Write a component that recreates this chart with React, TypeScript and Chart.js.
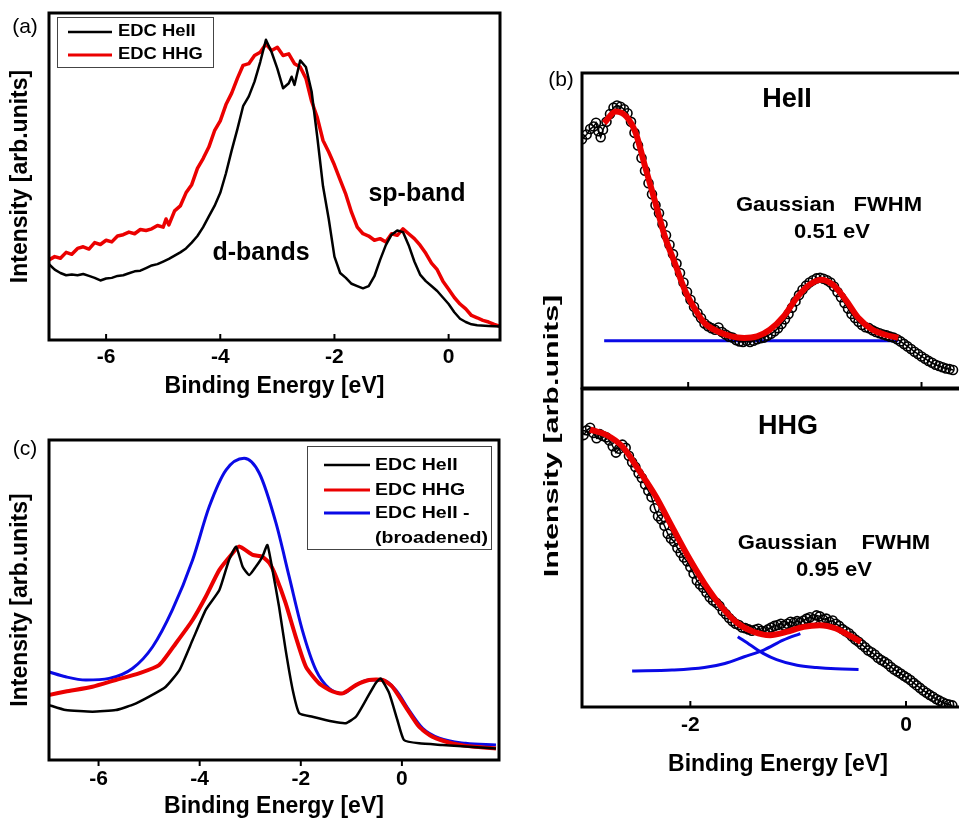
import React, { useEffect, useRef } from 'react';
import { Chart, registerables } from 'chart.js';

Chart.register(...registerables);

const FONT = "'Liberation Sans', Arial, Helvetica, sans-serif";
const RED = 'rgb(235,0,0)';
const BLUE = 'rgb(10,10,230)';

// ---------- Panel (a) ----------
const aHeIIEnergy = [-7.0, -6.9, -6.8, -6.7, -6.6, -6.5, -6.4, -6.3, -6.2, -6.1, -6.0, -5.9, -5.8, -5.7, -5.6, -5.5, -5.4, -5.3, -5.2, -5.1, -5.0, -4.9, -4.8, -4.7, -4.6, -4.5, -4.4, -4.3, -4.2, -4.1, -4.0, -3.9, -3.8, -3.7, -3.6, -3.5, -3.4, -3.3, -3.2, -3.1, -3.0, -2.9, -2.8, -2.75, -2.7, -2.6, -2.5, -2.4, -2.3, -2.2, -2.1, -2.0, -1.9, -1.8, -1.7, -1.6, -1.5, -1.4, -1.3, -1.2, -1.1, -1.0, -0.9, -0.8, -0.7, -0.6, -0.5, -0.4, -0.3, -0.2, -0.1, 0.0, 0.1, 0.2, 0.3, 0.4, 0.5, 0.7, 0.9];
const aHeIIIntensity = [0.232, 0.215, 0.205, 0.198, 0.2, 0.198, 0.202, 0.196, 0.19, 0.182, 0.188, 0.19, 0.196, 0.198, 0.204, 0.21, 0.212, 0.22, 0.228, 0.232, 0.24, 0.248, 0.258, 0.268, 0.28, 0.298, 0.318, 0.345, 0.378, 0.41, 0.45, 0.51, 0.58, 0.645, 0.715, 0.745, 0.79, 0.85, 0.918, 0.88, 0.83, 0.77, 0.785, 0.805, 0.78, 0.855, 0.835, 0.76, 0.62, 0.47, 0.37, 0.255, 0.205, 0.19, 0.172, 0.165, 0.158, 0.165, 0.195, 0.245, 0.29, 0.322, 0.335, 0.33, 0.29, 0.24, 0.2, 0.18, 0.165, 0.15, 0.13, 0.11, 0.085, 0.065, 0.055, 0.048, 0.045, 0.043, 0.041];
const aHHGEnergy = [-7.0, -6.9, -6.8, -6.7, -6.6, -6.5, -6.4, -6.3, -6.2, -6.1, -6.0, -5.9, -5.8, -5.7, -5.6, -5.5, -5.4, -5.3, -5.2, -5.1, -5.0, -4.95, -4.9, -4.8, -4.7, -4.6, -4.5, -4.4, -4.3, -4.2, -4.1, -4.0, -3.9, -3.8, -3.7, -3.6, -3.5, -3.4, -3.3, -3.2, -3.1, -3.0, -2.9, -2.8, -2.7, -2.6, -2.5, -2.4, -2.3, -2.2, -2.1, -2.0, -1.9, -1.8, -1.7, -1.6, -1.5, -1.4, -1.3, -1.2, -1.1, -1.0, -0.9, -0.8, -0.7, -0.6, -0.5, -0.4, -0.3, -0.2, -0.1, 0.0, 0.1, 0.2, 0.3, 0.4, 0.5, 0.6, 0.7, 0.8, 0.9];
const aHHGIntensity = [0.245, 0.255, 0.25, 0.268, 0.262, 0.28, 0.285, 0.278, 0.298, 0.292, 0.305, 0.3, 0.318, 0.322, 0.33, 0.325, 0.338, 0.335, 0.34, 0.35, 0.345, 0.37, 0.352, 0.395, 0.41, 0.45, 0.475, 0.525, 0.555, 0.59, 0.64, 0.67, 0.72, 0.755, 0.8, 0.84, 0.845, 0.87, 0.88, 0.905, 0.885, 0.895, 0.87, 0.875, 0.845, 0.835, 0.8, 0.73, 0.68, 0.61, 0.575, 0.535, 0.49, 0.445, 0.39, 0.345, 0.325, 0.318, 0.305, 0.31, 0.3, 0.325, 0.32, 0.34, 0.325, 0.31, 0.29, 0.265, 0.235, 0.215, 0.18, 0.155, 0.13, 0.11, 0.095, 0.075, 0.068, 0.06, 0.055, 0.048, 0.042];

// ---------- Panel (c) ----------
const cHeIIEnergy = [-6.99, -6.65, -6.12, -5.66, -5.33, -5.0, -4.67, -4.4, -4.14, -3.88, -3.61, -3.42, -3.28, -3.15, -3.02, -2.89, -2.76, -2.66, -2.56, -2.43, -2.3, -2.16, -2.03, -1.77, -1.37, -1.11, -0.91, -0.71, -0.52, -0.42, -0.25, -0.09, 0.04, 0.34, 0.8, 1.26, 1.86];
const cHeIIIntensity = [0.172, 0.156, 0.151, 0.156, 0.172, 0.198, 0.229, 0.281, 0.375, 0.469, 0.531, 0.625, 0.667, 0.604, 0.578, 0.604, 0.635, 0.672, 0.594, 0.479, 0.344, 0.219, 0.146, 0.135, 0.12, 0.115, 0.135, 0.188, 0.24, 0.255, 0.208, 0.125, 0.0625, 0.052, 0.047, 0.042, 0.036];
const cHHGEnergy = [-6.99, -6.65, -6.12, -5.66, -5.2, -4.8, -4.47, -4.14, -3.88, -3.61, -3.35, -3.22, -2.95, -2.76, -2.62, -2.49, -2.3, -2.1, -1.9, -1.64, -1.37, -1.17, -0.91, -0.65, -0.38, -0.19, 0.07, 0.34, 0.6, 1.0, 1.39, 1.86];
const cHHGIntensity = [0.203, 0.214, 0.229, 0.25, 0.271, 0.297, 0.365, 0.4375, 0.51, 0.594, 0.646, 0.667, 0.641, 0.635, 0.615, 0.573, 0.49, 0.385, 0.292, 0.24, 0.214, 0.208, 0.234, 0.25, 0.25, 0.229, 0.167, 0.104, 0.073, 0.052, 0.042, 0.036];
const cBroadEnergy = [-6.99, -6.65, -6.25, -5.79, -5.33, -4.93, -4.54, -4.14, -3.81, -3.48, -3.12, -2.82, -2.49, -2.23, -1.97, -1.7, -1.44, -1.17, -0.91, -0.65, -0.38, -0.12, 0.14, 0.41, 0.74, 1.26, 1.86];
const cBroadIntensity = [0.276, 0.26, 0.25, 0.255, 0.286, 0.354, 0.469, 0.625, 0.792, 0.906, 0.943, 0.896, 0.74, 0.573, 0.406, 0.281, 0.224, 0.208, 0.234, 0.25, 0.25, 0.219, 0.156, 0.099, 0.068, 0.052, 0.047];

// ---------- Panel (b), top (HeII) ----------
const bTopDataEnergy = [-2.91, -2.87, -2.84, -2.81, -2.79, -2.77, -2.75, -2.73, -2.7, -2.67, -2.64, -2.61, -2.58, -2.55, -2.52, -2.49, -2.46, -2.43, -2.4, -2.37, -2.34, -2.31, -2.28, -2.25, -2.22, -2.19, -2.16, -2.13, -2.1, -2.07, -2.04, -2.01, -1.98, -1.95, -1.92, -1.89, -1.86, -1.83, -1.8, -1.77, -1.74, -1.71, -1.68, -1.65, -1.62, -1.59, -1.56, -1.53, -1.5, -1.47, -1.44, -1.41, -1.38, -1.35, -1.32, -1.29, -1.26, -1.23, -1.2, -1.17, -1.14, -1.11, -1.08, -1.05, -1.02, -0.99, -0.96, -0.93, -0.9, -0.87, -0.84, -0.81, -0.78, -0.75, -0.72, -0.69, -0.66, -0.63, -0.6, -0.57, -0.54, -0.51, -0.48, -0.45, -0.42, -0.39, -0.36, -0.33, -0.3, -0.27, -0.24, -0.21, -0.18, -0.15, -0.12, -0.09, -0.06, -0.03, 0.0, 0.03, 0.06, 0.09, 0.12, 0.15, 0.18, 0.21, 0.24, 0.27];
const bTopDataIntensity = [0.79, 0.805, 0.822, 0.83, 0.842, 0.815, 0.796, 0.82, 0.845, 0.87, 0.89, 0.897, 0.893, 0.885, 0.872, 0.845, 0.81, 0.77, 0.73, 0.69, 0.65, 0.615, 0.58, 0.555, 0.52, 0.485, 0.455, 0.425, 0.395, 0.365, 0.335, 0.305, 0.28, 0.258, 0.238, 0.222, 0.205, 0.196, 0.19, 0.185, 0.192, 0.178, 0.17, 0.163, 0.16, 0.152, 0.148, 0.146, 0.15, 0.146, 0.15, 0.155, 0.158, 0.16, 0.166, 0.172, 0.18, 0.19, 0.203, 0.218, 0.235, 0.255, 0.275, 0.295, 0.312, 0.325, 0.335, 0.342, 0.348, 0.35, 0.347, 0.342, 0.335, 0.322, 0.305, 0.288, 0.27, 0.252, 0.235, 0.222, 0.21, 0.2, 0.193, 0.19, 0.183, 0.178, 0.174, 0.17, 0.167, 0.163, 0.16, 0.155, 0.148, 0.14, 0.132, 0.124, 0.115, 0.108, 0.1, 0.093, 0.086, 0.08, 0.074, 0.07, 0.066, 0.062, 0.06, 0.057];
const bTopFitEnergy = [-2.72, -2.62, -2.53, -2.45, -2.37, -2.28, -2.2, -2.11, -2.03, -1.94, -1.86, -1.75, -1.63, -1.52, -1.41, -1.3, -1.18, -1.07, -0.96, -0.86, -0.76, -0.65, -0.54, -0.42, -0.31, -0.2];
const bTopFitIntensity = [0.841, 0.878, 0.862, 0.81, 0.704, 0.587, 0.481, 0.392, 0.312, 0.249, 0.206, 0.18, 0.164, 0.159, 0.164, 0.185, 0.228, 0.286, 0.328, 0.344, 0.328, 0.28, 0.222, 0.185, 0.169, 0.159];
const bTopBaseEnergy = [-2.72, -0.2];
const bTopBaseIntensity = [0.15, 0.15];

// ---------- Panel (b), bottom (HHG) ----------
const bBotDataEnergy = [-2.99, -2.96, -2.93, -2.9, -2.87, -2.84, -2.81, -2.78, -2.75, -2.72, -2.69, -2.66, -2.63, -2.6, -2.57, -2.54, -2.51, -2.48, -2.45, -2.42, -2.39, -2.36, -2.33, -2.3, -2.27, -2.24, -2.21, -2.18, -2.15, -2.12, -2.09, -2.06, -2.03, -2.0, -1.97, -1.94, -1.91, -1.88, -1.85, -1.82, -1.79, -1.76, -1.73, -1.7, -1.67, -1.64, -1.61, -1.58, -1.55, -1.52, -1.49, -1.46, -1.43, -1.4, -1.37, -1.34, -1.31, -1.28, -1.25, -1.22, -1.19, -1.16, -1.13, -1.1, -1.07, -1.04, -1.01, -0.98, -0.95, -0.92, -0.89, -0.86, -0.83, -0.8, -0.77, -0.74, -0.71, -0.68, -0.65, -0.62, -0.59, -0.56, -0.53, -0.5, -0.47, -0.44, -0.41, -0.38, -0.35, -0.32, -0.29, -0.26, -0.23, -0.2, -0.17, -0.14, -0.11, -0.08, -0.05, -0.02, 0.01, 0.04, 0.07, 0.1, 0.13, 0.16, 0.19, 0.22, 0.25, 0.28, 0.31, 0.34, 0.37, 0.4, 0.43];
const bBotDataIntensity = [0.855, 0.87, 0.878, 0.862, 0.845, 0.858, 0.852, 0.848, 0.838, 0.82, 0.8, 0.812, 0.825, 0.815, 0.79, 0.77, 0.755, 0.735, 0.72, 0.7, 0.68, 0.66, 0.625, 0.6, 0.59, 0.57, 0.545, 0.53, 0.52, 0.5, 0.485, 0.47, 0.458, 0.44, 0.42, 0.398, 0.385, 0.375, 0.36, 0.345, 0.335, 0.328, 0.318, 0.302, 0.292, 0.28, 0.27, 0.262, 0.258, 0.25, 0.248, 0.244, 0.24, 0.243, 0.246, 0.24, 0.238, 0.244, 0.25, 0.255, 0.258, 0.262, 0.256, 0.262, 0.268, 0.265, 0.27, 0.266, 0.272, 0.278, 0.282, 0.276, 0.288, 0.285, 0.275, 0.278, 0.268, 0.272, 0.262, 0.255, 0.245, 0.238, 0.232, 0.222, 0.212, 0.205, 0.196, 0.188, 0.178, 0.172, 0.165, 0.155, 0.148, 0.142, 0.135, 0.126, 0.118, 0.112, 0.105, 0.098, 0.092, 0.085, 0.076, 0.068, 0.06, 0.052, 0.045, 0.038, 0.032, 0.025, 0.02, 0.015, 0.01, 0.008, 0.005];
const bBotFitEnergy = [-2.93, -2.78, -2.63, -2.48, -2.32, -2.17, -2.02, -1.87, -1.71, -1.56, -1.41, -1.26, -1.11, -0.95, -0.8, -0.65, -0.53, -0.42];
const bBotFitIntensity = [0.872, 0.856, 0.819, 0.746, 0.662, 0.567, 0.473, 0.389, 0.315, 0.263, 0.236, 0.226, 0.236, 0.252, 0.257, 0.247, 0.226, 0.205];
const bBotSpEnergy = [-2.54, -2.17, -1.87, -1.68, -1.5, -1.32, -1.14, -0.98];
const bBotSpIntensity = [0.113, 0.116, 0.124, 0.137, 0.158, 0.179, 0.21, 0.231];
const bBotTailEnergy = [-1.56, -1.44, -1.32, -1.2, -1.01, -0.83, -0.65, -0.44];
const bBotTailIntensity = [0.221, 0.194, 0.168, 0.149, 0.131, 0.124, 0.12, 0.118];

function pts(xs: number[], ys: number[]) {
  return xs.map((x, i) => ({ x, y: ys[i] }));
}

type TextSpec = { text: string; x: number; y: number; size: number; bold?: boolean; sx?: number; rot?: number; align?: CanvasTextAlign };
type LegendSpec = { box: [number, number, number, number]; lineX: [number, number]; textX: number; ys: number[]; size: number; sx: number; items: { ds: number; extraLine?: string }[] };
type FrameSpec = { tickDir: 'in' | 'out'; tickLen: number; texts: TextSpec[]; legend?: LegendSpec };

function drawText(ctx: CanvasRenderingContext2D, t: TextSpec) {
  ctx.save();
  ctx.translate(t.x, t.y);
  if (t.rot) ctx.rotate(t.rot);
  ctx.scale(t.sx ?? 1, 1);
  ctx.font = `${t.bold === false ? '' : 'bold '}${t.size}px ${FONT}`;
  ctx.fillStyle = '#000';
  ctx.textAlign = t.align ?? 'center';
  ctx.textBaseline = 'middle';
  ctx.fillText(t.text, 0, 0);
  ctx.restore();
}

function framePlugin(spec: FrameSpec) {
  return {
    id: 'frame',
    afterDraw(chart: any) {
      const { ctx, chartArea: a } = chart;
      ctx.save();
      ctx.strokeStyle = '#000';
      ctx.lineWidth = 3;
      ctx.strokeRect(a.left, a.top, a.right - a.left, a.bottom - a.top);
      const xs = chart.scales.x;
      ctx.lineWidth = 2;
      for (const t of xs.ticks) {
        const px = xs.getPixelForValue(t.value);
        ctx.beginPath();
        ctx.moveTo(px, a.bottom);
        ctx.lineTo(px, spec.tickDir === 'out' ? a.bottom + spec.tickLen : a.bottom - spec.tickLen);
        ctx.stroke();
      }
      for (const t of spec.texts) drawText(ctx, t);
      const lg = spec.legend;
      if (lg) {
        ctx.lineWidth = 1;
        ctx.strokeStyle = '#444';
        ctx.strokeRect(lg.box[0] + 0.5, lg.box[1] + 0.5, lg.box[2] - lg.box[0], lg.box[3] - lg.box[1]);
        let row = 0;
        for (const it of lg.items) {
          const ds = chart.data.datasets[it.ds];
          const y = lg.ys[row];
          ctx.strokeStyle = ds.borderColor;
          ctx.lineWidth = Math.min(ds.borderWidth, 3);
          ctx.beginPath();
          ctx.moveTo(lg.lineX[0], y);
          ctx.lineTo(lg.lineX[1], y);
          ctx.stroke();
          drawText(ctx, { text: ds.label, x: lg.textX, y, size: lg.size, sx: lg.sx, align: 'left' });
          row++;
          if (it.extraLine) {
            drawText(ctx, { text: it.extraLine, x: lg.textX, y: lg.ys[row], size: lg.size, sx: lg.sx, align: 'left' });
            row++;
          }
        }
      }
      ctx.restore();
    },
  };
}

function xAxis(min: number, max: number, height: number, showLabels: boolean, tickPad: number, titlePad: number) {
  return {
    type: 'linear',
    min,
    max,
    afterFit: (s: any) => { s.height = height; },
    grid: { display: false, drawTicks: false },
    border: { display: false },
    ticks: {
      display: showLabels,
      stepSize: 2,
      includeBounds: false,
      padding: tickPad,
      color: '#000',
      font: { family: FONT, size: 21, weight: 'bold' },
    },
    title: {
      display: showLabels,
      text: 'Binding Energy [eV]',
      color: '#000',
      font: { family: FONT, size: 23, weight: 'bold' },
      padding: { top: 0, bottom: titlePad },
    },
  };
}

function yAxis(showTitle: boolean) {
  return {
    type: 'linear',
    min: 0,
    max: 1,
    display: showTitle,
    afterFit: (s: any) => { s.width = showTitle ? 49 : 0; },
    grid: { display: false, drawTicks: false },
    border: { display: false },
    ticks: { display: false },
    title: {
      display: showTitle,
      text: 'Intensity [arb.units]',
      color: '#000',
      font: { family: FONT, size: 23, weight: 'bold' },
      padding: { top: 7, bottom: 0 },
    },
  };
}

function lineDs(label: string, data: any[], color: string, width: number, order: number, tension = 0, monotone = false) {
  return {
    label,
    data,
    borderColor: color,
    backgroundColor: color,
    borderWidth: width,
    pointRadius: 0,
    showLine: true,
    tension,
    cubicInterpolationMode: monotone ? 'monotone' : 'default',
    borderJoinStyle: 'round',
    order,
  };
}

function circleDs(label: string, data: any[], order: number) {
  return {
    label,
    data,
    borderColor: '#000',
    backgroundColor: 'rgba(255,255,255,0)',
    borderWidth: 1.5,
    pointRadius: 4.5,
    pointBorderWidth: 1.6,
    pointBorderColor: '#000',
    pointBackgroundColor: 'rgba(255,255,255,0)',
    showLine: true,
    order,
  };
}

function baseOptions(padding: any, scales: any) {
  return {
    responsive: false,
    animation: false,
    devicePixelRatio: 1,
    layout: { padding },
    plugins: { legend: { display: false }, tooltip: { enabled: false } },
    scales,
  };
}

const configA = () => ({
  type: 'scatter',
  data: {
    datasets: [
      lineDs('EDC HeII', pts(aHeIIEnergy, aHeIIIntensity), '#000', 2.5, 0),
      lineDs('EDC HHG', pts(aHHGEnergy, aHHGIntensity), RED, 3.5, 1),
    ],
  },
  options: baseOptions({ left: 0, top: 13, right: 10, bottom: 0 }, { x: xAxis(-7, 0.9, 60, true, 5, 0), y: yAxis(true) }),
  plugins: [
    framePlugin({
      tickDir: 'in',
      tickLen: 6,
      texts: [
        { text: '(a)', x: 25, y: 27, size: 21, bold: false },
        { text: 'sp-band', x: 417, y: 194, size: 25 },
        { text: 'd-bands', x: 261, y: 253, size: 25 },
      ],
      legend: { box: [57, 17, 213, 67], lineX: [68, 112], textX: 118, ys: [32, 55], size: 16, sx: 1.15, items: [{ ds: 0 }, { ds: 1 }] },
    }),
  ],
});

const configC = () => ({
  type: 'scatter',
  data: {
    datasets: [
      lineDs('EDC HeII', pts(cHeIIEnergy, cHeIIIntensity), '#000', 2.5, 0, 0.15),
      lineDs('EDC HHG', pts(cHHGEnergy, cHHGIntensity), RED, 4, 1, 0.2),
      lineDs('EDC HeII -', pts(cBroadEnergy, cBroadIntensity), BLUE, 3, 2, 0.4, true),
    ],
  },
  options: baseOptions({ left: 0, top: 10, right: 11, bottom: 0 }, { x: xAxis(-6.98, 1.92, 61, true, 7, 1), y: yAxis(true) }),
  plugins: [
    framePlugin({
      tickDir: 'out',
      tickLen: 6,
      texts: [{ text: '(c)', x: 25, y: 19, size: 21, bold: false }],
      legend: { box: [307, 16, 491, 119], lineX: [324, 370], textX: 375, ys: [35, 60, 83, 108], size: 17, sx: 1.15, items: [{ ds: 0 }, { ds: 1 }, { ds: 2, extraLine: '(broadened)' }] },
    }),
  ],
});

const configBTop = () => ({
  type: 'scatter',
  data: {
    datasets: [
      circleDs('HeII data', pts(bTopDataEnergy, bTopDataIntensity), 1),
      lineDs('Fit', pts(bTopFitEnergy, bTopFitIntensity), RED, 6, 0, 0.4, true),
      lineDs('Background', pts(bTopBaseEnergy, bTopBaseIntensity), BLUE, 3, 2),
    ],
  },
  options: baseOptions({ left: 42, top: 13, right: 0, bottom: 212 }, { x: xAxis(-2.91, 0.449, 0, false, 0, 0), y: yAxis(false) }),
  plugins: [
    framePlugin({
      tickDir: 'in',
      tickLen: 6,
      texts: [
        { text: '(b)', x: 21, y: 20, size: 21, bold: false },
        { text: 'HeII', x: 247, y: 40, size: 27 },
        { text: 'Gaussian   FWHM', x: 289, y: 145, size: 21, sx: 1.05 },
        { text: '0.51 eV', x: 292, y: 172, size: 21, sx: 1.05 },
        { text: 'Intensity [arb.units]', x: 12, y: 376, size: 21, sx: 1.45, rot: -Math.PI / 2 },
      ],
    }),
  ],
});

const configBBot = () => ({
  type: 'scatter',
  data: {
    datasets: [
      circleDs('HHG data', pts(bBotDataEnergy, bBotDataIntensity), 1),
      lineDs('Fit', pts(bBotFitEnergy, bBotFitIntensity), RED, 6, 0, 0.4, true),
      lineDs('sp Gaussian', pts(bBotSpEnergy, bBotSpIntensity), BLUE, 3, 2, 0.4, true),
      lineDs('d-band tail', pts(bBotTailEnergy, bBotTailIntensity), BLUE, 3, 2, 0.4, true),
    ],
  },
  options: baseOptions({ left: 42, top: 9, right: 0, bottom: 0 }, { x: xAxis(-3.005, 0.63, 114, true, 6, 43), y: yAxis(false) }),
  plugins: [
    framePlugin({
      tickDir: 'in',
      tickLen: 6,
      texts: [
        { text: 'HHG', x: 248, y: 47, size: 27 },
        { text: 'Gaussian    FWHM', x: 294, y: 163, size: 21, sx: 1.05 },
        { text: '0.95 eV', x: 294, y: 190, size: 21, sx: 1.05 },
      ],
    }),
  ],
});

function Panel({ left, top, width, height, makeConfig }: { left: number; top: number; width: number; height: number; makeConfig: () => any }) {
  const ref = useRef<HTMLCanvasElement | null>(null);
  useEffect(() => {
    if (!ref.current) return;
    const chart = new Chart(ref.current, makeConfig());
    return () => chart.destroy();
  }, []);
  return (
    <div style={{ position: 'absolute', left, top, width, height }}>
      <canvas ref={ref} width={width} height={height} style={{ width, height, display: 'block' }} />
    </div>
  );
}

export default function App() {
  return (
    <div style={{ position: 'fixed', left: 0, top: 0, width: 959, height: 821, overflow: 'hidden', background: '#fff' }}>
      <Panel left={0} top={0} width={510} height={400} makeConfig={configA} />
      <Panel left={0} top={430} width={510} height={391} makeConfig={configC} />
      <Panel left={540} top={60} width={440} height={540} makeConfig={configBTop} />
      <Panel left={540} top={380} width={440} height={441} makeConfig={configBBot} />
    </div>
  );
}
